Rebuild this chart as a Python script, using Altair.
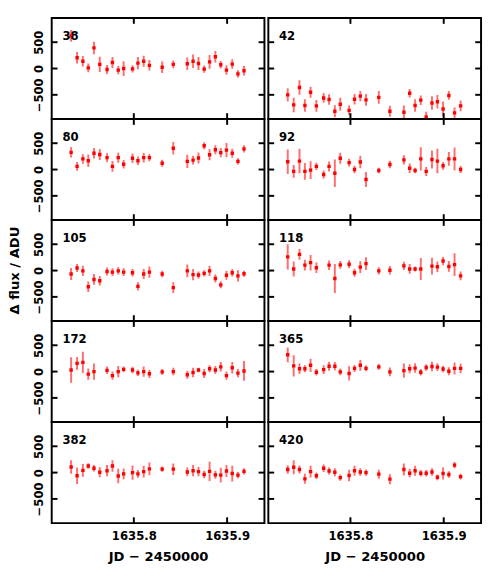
import altair as alt
import pandas as pd

# observation times, JD - 2450000
jd = [1635.7328, 1635.7392, 1635.7454, 1635.7512, 1635.7573, 1635.7635, 1635.7713,
      1635.7771, 1635.7833, 1635.7891, 1635.7986, 1635.8044, 1635.8106, 1635.8167,
      1635.8304, 1635.8423, 1635.8573, 1635.8635, 1635.8693, 1635.8754, 1635.8812,
      1635.8874, 1635.8932, 1635.8993, 1635.9055, 1635.9116, 1635.9181]

names = ["38", "42", "80", "92", "105", "118", "172", "365", "382", "420"]

v38 = [620, 205, 138, 12, 391, 78, -18, 114, -30, 0, -6, 102, 138, 60, 24, 78, 90, 138, 96, -12, 126, 223, 72, -30, 84, -102, -42]
e38 = [110, 110, 100, 85, 120, 145, 85, 105, 80, 140, 70, 115, 105, 100, 110, 75, 120, 130, 125, 70, 130, 110, 70, 90, 90, 70, 90]

v42 = [-500, -692, -361, -704, -451, -710, -560, -590, -813, -680, -795, -584, -524, -596, -548, -813, -831, -470, -704, -602, -921, -656, -632, -770, -512, -843, -710]
e42 = [126, 138, 138, 120, 105, 110, 93, 100, 115, 125, 90, 100, 96, 110, 120, 105, 130, 80, 120, 90, 100, 130, 130, 145, 84, 100, 100]

v80 = [327, 60, 202, 167, 309, 286, 226, 60, 226, 101, 214, 167, 226, 226, 119, 405, 155, 178, 220, 452, 280, 375, 321, 369, 309, 155, 393]
e80 = [100, 83, 90, 120, 100, 105, 83, 100, 95, 80, 90, 83, 90, 70, 65, 120, 128, 83, 104, 68, 104, 86, 86, 134, 86, 60, 68]

v92 = [149, -36, 161, -36, -12, 60, -95, 60, -71, 214, 131, 0, 143, -190, -18, 95, 184, 24, -18, 202, -36, 190, 161, 71, 202, 202, 0]
e92 = [232, 120, 232, 158, 170, 71, 77, 95, 262, 104, 74, 71, 119, 143, 54, 71, 89, 89, 54, 220, 86, 172, 232, 74, 131, 217, 65]

v105 = [-66, 48, -6, -307, -169, -193, -18, -30, -6, -30, -42, -301, -66, -30, -66, -325, -6, -78, -84, -54, -6, -151, -271, -90, -42, -102, -60]
e105 = [114, 75, 96, 99, 102, 90, 75, 72, 69, 72, 72, 78, 96, 108, 60, 102, 120, 108, 66, 60, 96, 78, 66, 84, 72, 108, 57]

v118 = [259, 30, 307, 102, 150, 54, None, 102, -151, 108, 120, -42, 66, 132, -6, 6, 90, 30, 30, 30, None, 84, 72, 181, 78, 114, -102]
e118 = [240, 141, 102, 102, 147, 99, None, 90, 277, 75, 78, 75, 111, 120, 69, 81, 78, 93, 48, 208, None, 160, 99, 78, 102, 217, 84]

v172 = [30, 157, 175, -48, 0, None, 24, -78, 0, 42, 30, -24, 0, -42, -6, 0, -60, -18, 30, -36, 54, 30, 90, -78, 72, -30, 12]
e172 = [241, 120, 202, 108, 153, None, 72, 78, 108, 54, 60, 60, 96, 78, 54, 72, 78, 90, 42, 84, 66, 78, 90, 78, 108, 78, 187]

v365 = [319, 108, 54, 54, 120, -12, 36, 102, 102, -6, -36, 60, 120, 60, 90, -6, 18, 54, 66, -12, 78, 96, 84, 48, 6, 60, 60]
e365 = [141, 202, 99, 66, 126, 63, 84, 84, 78, 66, 135, 66, 102, 54, 54, 84, 135, 84, 90, 63, 60, 90, 75, 63, 78, 114, 90]

v382 = [107, -60, 42, 125, 83, 6, 36, 125, -65, -24, 0, -24, 18, 71, 65, 65, 12, 36, 18, -36, 24, -42, -48, 30, -18, -48, 24]
e382 = [128, 155, 122, 51, 60, 95, 107, 110, 137, 104, 137, 74, 110, 119, 51, 110, 83, 107, 89, 71, 184, 77, 140, 113, 149, 60, 60]

v420 = [59, 101, 59, -119, 18, -60, 83, 30, 6, -95, -54, 36, 12, 0, -30, -125, 59, -12, 36, -12, -12, 12, -89, -18, -36, 143, -77]
e420 = [83, 134, 77, 95, 113, 60, 71, 68, 77, 60, 110, 95, 71, 60, 86, 95, 116, 83, 95, 60, 60, 71, 54, 113, 60, 60, 54]

values = [v38, v42, v80, v92, v105, v118, v172, v365, v382, v420]
errors = [e38, e42, e80, e92, e105, e118, e172, e365, e382, e420]

x_ticks = [1635.8, 1635.9]
y_ticks = [-500, 0, 500]
x_domain = [1635.712, 1635.940]
y_domain = [-960, 960]

W, H = 219, 104
FONT = "DejaVu Sans"
TL = 6  # inward tick length


def column_data(col):
    recs = []
    for r in range(5):
        i = r * 2 + col
        for t, v, e in zip(jd, values[i], errors[i]):
            if v is None:
                continue
            recs.append(dict(row=r, kind="obs", t=t, v=v, lo=v - e, hi=v + e, name=""))
        for t in x_ticks:
            recs.append(dict(row=r, kind="xt", t=t, v=0, lo=0, hi=0, name=""))
        for v in y_ticks:
            recs.append(dict(row=r, kind="yt", t=0, v=v, lo=0, hi=0, name=""))
        recs.append(dict(row=r, kind="name", t=0, v=0, lo=0, hi=0, name=names[i]))
    return pd.DataFrame(recs)


def column_chart(col):
    left = col == 0
    xs = alt.Scale(domain=x_domain, nice=False, zero=False)
    ys = alt.Scale(domain=y_domain, nice=False, zero=False)
    xaxis = alt.Axis(values=x_ticks, format=".1f", ticks=False, domain=False,
                     grid=False, labelPadding=8, title="JD − 2450000",
                     titlePadding=8)
    if left:
        yaxis = alt.Axis(values=y_ticks, format="d", ticks=False, domain=False,
                         grid=False, labelAngle=270, labelAlign="center",
                         labelBaseline="bottom", labelPadding=6, title=None)
    else:
        yaxis = None

    base = alt.Chart()
    obs = base.transform_filter("datum.kind == 'obs'")
    bars = obs.mark_rule(color="#ff2020", strokeWidth=2, opacity=0.65, clip=True).encode(
        x=alt.X("t:Q", scale=xs, axis=xaxis),
        y=alt.Y("lo:Q", scale=ys, axis=yaxis),
        y2="hi:Q",
    )
    pts = obs.mark_square(size=12, color="#ff0000", opacity=1, clip=True).encode(
        x=alt.X("t:Q", scale=xs, axis=xaxis),
        y=alt.Y("v:Q", scale=ys, axis=yaxis),
    )
    xt = base.transform_filter("datum.kind == 'xt'")
    yt = base.transform_filter("datum.kind == 'yt'")
    top_t = xt.mark_rule(color="black", strokeWidth=2).encode(
        x=alt.X("t:Q", scale=xs, axis=xaxis), y=alt.value(0), y2=alt.value(TL))
    bot_t = xt.mark_rule(color="black", strokeWidth=2).encode(
        x=alt.X("t:Q", scale=xs, axis=xaxis), y=alt.value(H - TL), y2=alt.value(H))
    left_t = yt.mark_rule(color="black", strokeWidth=2).encode(
        y=alt.Y("v:Q", scale=ys, axis=yaxis), x=alt.value(0), x2=alt.value(TL))
    right_t = yt.mark_rule(color="black", strokeWidth=2).encode(
        y=alt.Y("v:Q", scale=ys, axis=yaxis), x=alt.value(W - TL), x2=alt.value(W))
    label = base.transform_filter("datum.kind == 'name'").mark_text(
        align="left", baseline="alphabetic", font=FONT, fontWeight="bold",
        fontSize=12, color="black").encode(
        x=alt.value(11), y=alt.value(23), text="name:N")
    layer = alt.layer(bars, pts, top_t, bot_t, left_t, right_t, label).properties(
        width=W, height=H)
    if left:
        row = alt.Row("row:O", title="Δ flux / ADU",
                      header=alt.Header(labels=False, labelPadding=0,
                                        titleFont=FONT, titleFontSize=13.5,
                                        titleFontWeight="bold", titleColor="black",
                                        titlePadding=2))
    else:
        row = alt.Row("row:O", title=None,
                      header=alt.Header(labels=False, labelPadding=0))
    return layer.facet(row=row, data=column_data(col), spacing=0, bounds="flush")


chart = alt.hconcat(column_chart(0), column_chart(1), spacing=0).properties(
    padding=0
).configure_view(
    stroke="black", strokeWidth=2
).configure_axis(
    labelFont=FONT, labelFontSize=12, labelFontWeight="bold", labelColor="black",
    titleFont=FONT, titleFontSize=13.5, titleFontWeight="bold", titleColor="black",
)

chart.save("out.html", embed_options={"renderer": "svg", "actions": False})
